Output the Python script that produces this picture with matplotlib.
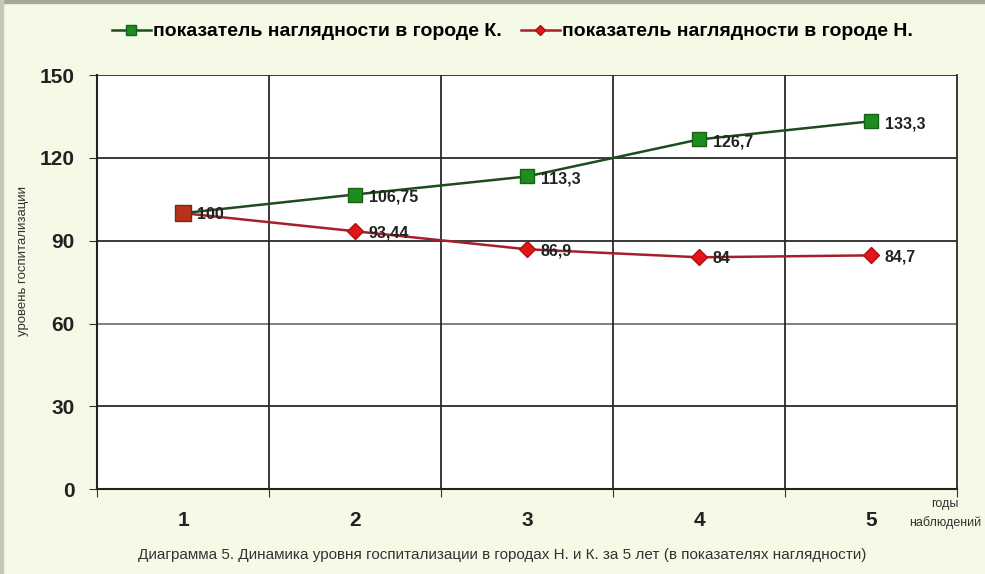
import numpy as np
import matplotlib.pyplot as plt
from matplotlib.patches import Rectangle

plt.rcParams['font.family'] = ['Liberation Sans', 'DejaVu Sans']

years = [1, 2, 3, 4, 5]
city_k = [100, 106.75, 113.3, 126.7, 133.3]
city_n = [100, 93.44, 86.9, 84, 84.7]
labels_k = ['100', '106,75', '113,3', '126,7', '133,3']
labels_n = ['100', '93,44', '86,9', '84', '84,7']
yticks = [0, 30, 60, 90, 120, 150]

bg = '#f5fae6'
fig = plt.figure(figsize=(9.85, 5.74), dpi=100, facecolor=bg)
ax = fig.add_axes([0.0985, 0.148, 0.873, 0.721])
ax.set_facecolor('white')

# grey frame at top and left of the picture
fig.patches.append(Rectangle((0, 0.994), 1, 0.006, transform=fig.transFigure,
                             color='#a8a89a', zorder=0))
fig.patches.append(Rectangle((0, 0), 0.003, 1, transform=fig.transFigure,
                             color='#c8c8b8', zorder=0))

ax.plot(years, city_k, color='#1d4d1d', lw=1.8, marker='s', ms=10,
        mfc='#1f8c1f', mec='#176017', label='показатель наглядности в городе К.', zorder=3)
ax.plot(years, city_n, color='#a3202a', lw=1.8, marker='D', ms=8,
        mfc='#e0161c', mec='#b01010', label='показатель наглядности в городе Н.', zorder=4)
# first point looks like a combined brownish square
ax.plot(years[0], city_k[0], marker='s', ms=11, mfc='#b8321a', mec='#6a3010', zorder=5)

for x, y, t in zip(years, city_k, labels_k):
    if x == 1:
        continue
    ax.annotate(t, (x, y), xytext=(10, -2), textcoords='offset points',
                ha='left', va='center', fontsize=11.5, fontweight='bold', color='#222222', zorder=6)
for x, y, t in zip(years, city_n, labels_n):
    ax.annotate(t, (x, y), xytext=(10, -1), textcoords='offset points',
                ha='left', va='center', fontsize=11.5, fontweight='bold', color='#222222', zorder=6)

ax.set_xlim(0.5, 5.5)
ax.set_ylim(0, 150)
ax.set_yticks(yticks)
ax.set_yticklabels([str(v) for v in yticks], fontsize=15, fontweight='bold', color='#222222')
ax.set_xticks(np.arange(0.5, 6.0, 1.0))
ax.set_xticklabels([])
ax.set_xticks(years, minor=True)
ax.set_xticklabels([str(v) for v in years], minor=True, fontsize=15, fontweight='bold', color='#222222')
ax.tick_params(axis='x', which='minor', length=0, pad=16)
ax.tick_params(axis='x', which='major', length=6, direction='out', color='#333333')
ax.tick_params(axis='y', length=6, direction='out', color='#333333', pad=10)

for yv in yticks[1:]:
    ax.axhline(yv, color='#2a2a2a' if yv != 60 else '#777777', lw=1.3, zorder=1)
for xv in np.arange(1.5, 5.5, 1.0):
    ax.axvline(xv, color='#2a2a2a', lw=1.3, zorder=1)

for side in ['left', 'bottom']:
    ax.spines[side].set_color('#222222')
    ax.spines[side].set_linewidth(1.5)
ax.spines['right'].set_color('#2a2a2a')
ax.spines['right'].set_linewidth(1.3)
ax.spines['top'].set_visible(False)

fig.text(0.023, 0.545, 'уровень госпитализации', rotation=90, ha='center', va='center',
         fontsize=9.5, color='#333333')
fig.text(0.996, 0.105, 'годы\nнаблюдений', ha='right', va='center', fontsize=9,
         color='#333333', linespacing=1.6, multialignment='center')
fig.text(0.51, 0.033,
         'Диаграмма 5. Динамика уровня госпитализации в городах Н. и К. за 5 лет (в показателях наглядности)',
         ha='center', va='center', fontsize=11, color='#333333')

fig.legend(loc='center', bbox_to_anchor=(0.52, 0.945), ncol=2, frameon=False,
           prop={'size': 14, 'weight': 'bold'}, handlelength=2.0, handletextpad=0.1,
           columnspacing=1.0, markerscale=0.7)

fig.savefig('out.png', dpi=100, facecolor=bg)
